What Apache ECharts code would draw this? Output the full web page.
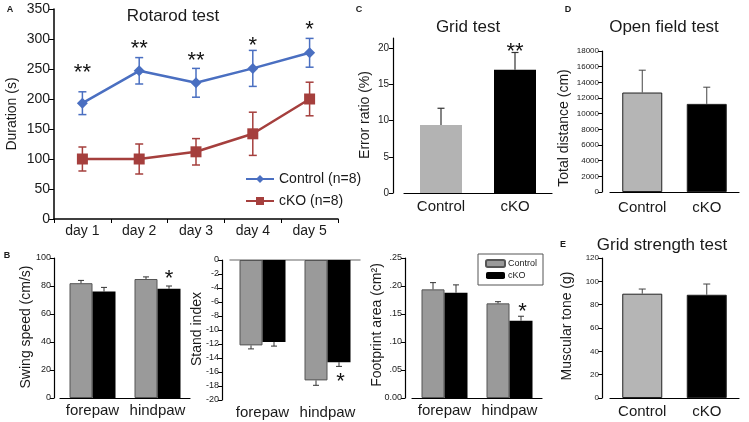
<!DOCTYPE html>
<html>
<head>
<meta charset="utf-8">
<script src="https://cdn.jsdelivr.net/npm/echarts@6/dist/echarts.min.js"></script>
<style>
  html, body { margin: 0; padding: 0; background: #fff; }
  #chart { width: 749px; height: 422px; }
</style>
</head>
<body>
<div id="chart"></div>
<script>
// A - rotarod
const days = ['day 1', 'day 2', 'day 3', 'day 4', 'day 5'];
const rotCtrl = [193, 247, 227, 251, 277];
const rotCtrlErr = [19, 22, 24, 30, 24];
const rotKO = [100, 100, 112, 142, 200];
const rotKOErr = [20, 25, 22, 36, 28];
const rotStars = ['**', '**', '**', '*', '*'];
const rotStarY = [252, 293, 273, 298, 325];

// B - gait
const paws = ['forepaw', 'hindpaw'];
const swingCtrl = [82, 85];
const swingCtrlErr = [2, 1.5];
const swingKO = [76, 78];
const swingKOErr = [3, 2];
const swingStarY = [null, 89];

const standCtrl = [-12.2, -17.2];
const standCtrlErr = [0.5, 0.7];
const standKO = [-11.7, -14.6];
const standKOErr = [0.6, 0.6];
const standStarY = [null, -16.7];

const footCtrl = [0.194, 0.169];
const footCtrlErr = [0.012, 0.003];
const footKO = [0.188, 0.138];
const footKOErr = [0.014, 0.008];
const footStarY = [null, 0.163];

// C, D, E
const groups = ['Control', 'cKO'];
const gridTest = [9.4, 17.0];
const gridTestErr = [2.3, 2.4];
const gridStarY = [null, 20.2];
const openField = [12700, 11250];
const openFieldErr = [2850, 2130];
const strength = [89.4, 88.5];
const strengthErr = [4, 9.2];

const FONT = '"Liberation Sans", Arial, sans-serif';
const TXT = '#1a1a1a';
const BLUE = '#4a6fc1';
const RED = '#a53f3d';

const chart = echarts.init(document.getElementById('chart'));

function catAxis(grid, data, size, margin, extra) {
  return Object.assign({
    type: 'category', gridIndex: grid, data: data,
    axisLine: { lineStyle: { color: '#000', width: 1.2 } },
    axisTick: { show: false },
    axisLabel: { color: TXT, fontSize: size, fontFamily: FONT, margin: margin, interval: 0 }
  }, extra || {});
}

function valAxis(grid, min, max, interval, size, extra) {
  return Object.assign({
    type: 'value', gridIndex: grid, min: min, max: max, interval: interval,
    splitLine: { show: false },
    axisLine: { show: true, lineStyle: { color: '#000', width: 1.2 } },
    axisTick: { show: true, length: 4, lineStyle: { color: '#000' } },
    axisLabel: { color: TXT, fontSize: size, fontFamily: FONT, margin: 3, formatter: v => String(v) }
  }, extra || {});
}

// error bars: mode 1 = up only, -1 = down only, 0 = both
function errSeries(xi, yi, vals, errs, off, mode, cap, color, width) {
  return {
    type: 'custom', xAxisIndex: xi, yAxisIndex: yi, silent: true, z: 4,
    data: vals.map((v, i) => [i, v, errs[i]]),
    renderItem: function (params, api) {
      const i = api.value(0), v = api.value(1), e = api.value(2);
      const c = api.coord([i, v]);
      const hi = api.coord([i, v + e]);
      const lo = api.coord([i, v - e]);
      const x = c[0] + off;
      const top = mode === -1 ? c[1] : hi[1];
      const bot = mode === 1 ? c[1] : lo[1];
      const st = { stroke: color, lineWidth: width };
      const kids = [{ type: 'line', shape: { x1: x, y1: top, x2: x, y2: bot }, style: st }];
      if (mode !== -1) kids.push({ type: 'line', shape: { x1: x - cap, y1: top, x2: x + cap, y2: top }, style: st });
      if (mode !== 1) kids.push({ type: 'line', shape: { x1: x - cap, y1: bot, x2: x + cap, y2: bot }, style: st });
      return { type: 'group', children: kids };
    }
  };
}

function starSeries(xi, yi, ys, texts, off, size) {
  const data = [];
  ys.forEach((y, i) => { if (y !== null) data.push([i, y, i]); });
  return {
    type: 'custom', xAxisIndex: xi, yAxisIndex: yi, silent: true, z: 5,
    data: data,
    renderItem: function (params, api) {
      const c = api.coord([api.value(0), api.value(1)]);
      return {
        type: 'text', x: c[0] + off, y: c[1] + size * 0.25,
        style: { text: texts[api.value(2)], fontSize: size, fontFamily: FONT, fill: '#111',
          align: 'center', verticalAlign: 'middle' }
      };
    }
  };
}

function ytext(t, x, y, size) {
  return { type: 'text', x: x, y: y, rotation: Math.PI / 2,
    style: { text: t, fontSize: size, fontFamily: FONT, fill: TXT, align: 'center', verticalAlign: 'middle' } };
}
function htext(t, x, y, size, bold) {
  return { type: 'text', x: x, y: y,
    style: { text: t, fontSize: size, fontFamily: FONT, fontWeight: bold ? 'bold' : 'normal', fill: TXT,
      align: 'center', verticalAlign: 'middle' } };
}

const grayB = { color: '#9a9a9a', borderColor: '#555', borderWidth: 1 };
const blackB = { color: '#000' };
const colsC = ['#b3b3b3', '#000'];
const colsD = ['#b5b5b5', '#000'];

const option = {
  animation: false,
  grid: [
    { left: 54, top: 9, width: 284, height: 210 },     // A
    { left: 60, top: 258, width: 130, height: 140 },   // B1
    { left: 230, top: 260, width: 130, height: 140 },  // B2
    { left: 412, top: 258, width: 130, height: 140 },  // B3
    { left: 404, top: 38, width: 148, height: 155 },   // C
    { left: 610, top: 51, width: 129, height: 141 },   // D
    { left: 610, top: 258, width: 129, height: 140 }   // E
  ],
  xAxis: [
    catAxis(0, days, 14, 5, { axisLine: { lineStyle: { color: '#000', width: 1.5 } },
      axisTick: { show: true, length: 4, lineStyle: { color: '#000' } } }),
    catAxis(1, paws, 15, 5),
    catAxis(2, paws, 15, 5, { position: 'bottom', axisLine: { show: false, onZero: false } }),
    catAxis(2, paws, 15, 5, { position: 'top', axisLabel: { show: false },
      axisLine: { show: true, onZero: false, lineStyle: { color: '#999', width: 1.5 } } }),
    catAxis(3, paws, 15, 5),
    catAxis(4, groups, 15, 6),
    catAxis(5, groups, 15, 8),
    catAxis(6, groups, 15, 6)
  ],
  yAxis: [
    valAxis(0, 0, 350, 50, 14, { axisLine: { show: true, lineStyle: { color: '#000', width: 1.5 } },
      axisTick: { show: true, length: 5, lineStyle: { color: '#000' } },
      axisLabel: { color: TXT, fontSize: 14, fontFamily: FONT, margin: 4 } }),
    valAxis(1, 0, 100, 20, 9, { offset: 6 }),
    valAxis(2, -20, 0, 2, 9, { offset: 8 }),
    valAxis(3, 0, 0.25, 0.05, 9, { offset: 7,
      axisLabel: { color: TXT, fontSize: 9, fontFamily: FONT, margin: 3,
        formatter: v => { const n = Math.round(v * 100); return n === 0 ? '0.00' : '.' + String(n).padStart(2, '0'); } } }),
    valAxis(4, 0, 21.4, 5, 10, { offset: 11,
      axisLabel: { color: TXT, fontSize: 10, fontFamily: FONT, margin: 4, showMaxLabel: false } }),
    valAxis(5, 0, 18000, 2000, 8, { offset: 8 }),
    valAxis(6, 0, 120, 20, 8, { offset: 8 })
  ],
  legend: [
    { data: ['Control (n=8)', 'cKO (n=8)'], orient: 'vertical', left: 240, top: 167,
      itemWidth: 28, itemHeight: 10, itemGap: 8, selectedMode: false,
      textStyle: { fontSize: 14, fontFamily: FONT, color: TXT } },
    { data: ['Control', 'cKO'], orient: 'vertical', left: 478, top: 254,
      padding: [5, 6, 5, 7], itemWidth: 19, itemHeight: 7, itemGap: 3, selectedMode: false,
      borderColor: '#555', borderWidth: 1,
      textStyle: { fontSize: 9, fontFamily: FONT, color: TXT, padding: [0, 0, 0, -2] } }
  ],
  graphic: [
    htext('A', 10, 10, 9, true),
    htext('B', 7, 256, 9, true),
    htext('C', 359, 10, 9, true),
    htext('D', 568, 10, 9, true),
    htext('E', 563, 245, 9, true),
    htext('Rotarod test', 173, 16, 17),
    htext('Grid test', 468, 27, 17),
    htext('Open field test', 664, 27, 17),
    htext('Grid strength test', 662, 245, 17),
    ytext('Duration (s)', 12, 114, 14),
    ytext('Swing speed (cm/s)', 26, 327, 14),
    ytext('Stand index', 197, 329, 14),
    ytext('Footprint area (cm²)', 377, 325, 14),
    ytext('Error ratio (%)', 365, 115, 14),
    ytext('Total distance (cm)', 564, 128, 14),
    ytext('Muscular tone (g)', 567, 326, 14)
  ],
  series: [
    // A
    { name: 'Control (n=8)', type: 'line', xAxisIndex: 0, yAxisIndex: 0, data: rotCtrl,
      symbol: 'diamond', symbolSize: 11, itemStyle: { color: BLUE },
      lineStyle: { color: BLUE, width: 2.5 }, z: 3 },
    { name: 'cKO (n=8)', type: 'line', xAxisIndex: 0, yAxisIndex: 0, data: rotKO,
      symbol: 'rect', symbolSize: 11, itemStyle: { color: RED },
      lineStyle: { color: RED, width: 2.5 }, z: 3 },
    errSeries(0, 0, rotCtrl, rotCtrlErr, 0, 0, 4, BLUE, 1.5),
    errSeries(0, 0, rotKO, rotKOErr, 0, 0, 4, RED, 1.5),
    starSeries(0, 0, rotStarY, rotStars, 0, 22),

    // B1
    { name: 'Control', type: 'bar', xAxisIndex: 1, yAxisIndex: 1, data: swingCtrl,
      barWidth: 23, barGap: '0%', itemStyle: grayB },
    { name: 'cKO', type: 'bar', xAxisIndex: 1, yAxisIndex: 1, data: swingKO,
      barWidth: 23, barGap: '0%', itemStyle: blackB },
    errSeries(1, 1, swingCtrl, swingCtrlErr, -11.5, 1, 3, '#333', 1),
    errSeries(1, 1, swingKO, swingKOErr, 11.5, 1, 3, '#333', 1),
    starSeries(1, 1, swingStarY, ['', '*'], 11.5, 22),

    // B2
    { name: 'Control', type: 'bar', xAxisIndex: 2, yAxisIndex: 2, data: standCtrl,
      barWidth: 23, barGap: '0%', itemStyle: grayB },
    { name: 'cKO', type: 'bar', xAxisIndex: 2, yAxisIndex: 2, data: standKO,
      barWidth: 23, barGap: '0%', itemStyle: blackB },
    errSeries(2, 2, standCtrl, standCtrlErr, -11.5, -1, 3, '#333', 1),
    errSeries(2, 2, standKO, standKOErr, 11.5, -1, 3, '#333', 1),
    starSeries(2, 2, standStarY, ['', '*'], 13, 22),

    // B3
    { name: 'Control', type: 'bar', xAxisIndex: 4, yAxisIndex: 3, data: footCtrl,
      barWidth: 23, barGap: '0%', itemStyle: grayB },
    { name: 'cKO', type: 'bar', xAxisIndex: 4, yAxisIndex: 3, data: footKO,
      barWidth: 23, barGap: '0%', itemStyle: blackB },
    errSeries(4, 3, footCtrl, footCtrlErr, -11.5, 1, 3, '#333', 1),
    errSeries(4, 3, footKO, footKOErr, 11.5, 1, 3, '#333', 1),
    starSeries(4, 3, footStarY, ['', '*'], 13, 22),

    // C
    { name: 'Grid test', type: 'bar', xAxisIndex: 5, yAxisIndex: 4, barWidth: 42,
      data: gridTest.map((v, i) => ({ value: v, itemStyle: { color: colsC[i] } })) },
    errSeries(5, 4, gridTest, gridTestErr, 0, 1, 3.5, '#333', 1.2),
    starSeries(5, 4, gridStarY, ['', '**'], 0, 22),

    // D
    { name: 'Open field', type: 'bar', xAxisIndex: 6, yAxisIndex: 5, barWidth: 40,
      data: openField.map((v, i) => ({ value: v, itemStyle: { color: colsD[i], borderColor: '#222', borderWidth: 1 } })) },
    errSeries(6, 5, openField, openFieldErr, 0, 1, 3.5, '#444', 1),

    // E
    { name: 'Grid strength', type: 'bar', xAxisIndex: 7, yAxisIndex: 6, barWidth: 40,
      data: strength.map((v, i) => ({ value: v, itemStyle: { color: colsD[i], borderColor: '#222', borderWidth: 1 } })) },
    errSeries(7, 6, strength, strengthErr, 0, 1, 3.5, '#444', 1)
  ]
};

chart.setOption(option);
</script>
</body>
</html>
